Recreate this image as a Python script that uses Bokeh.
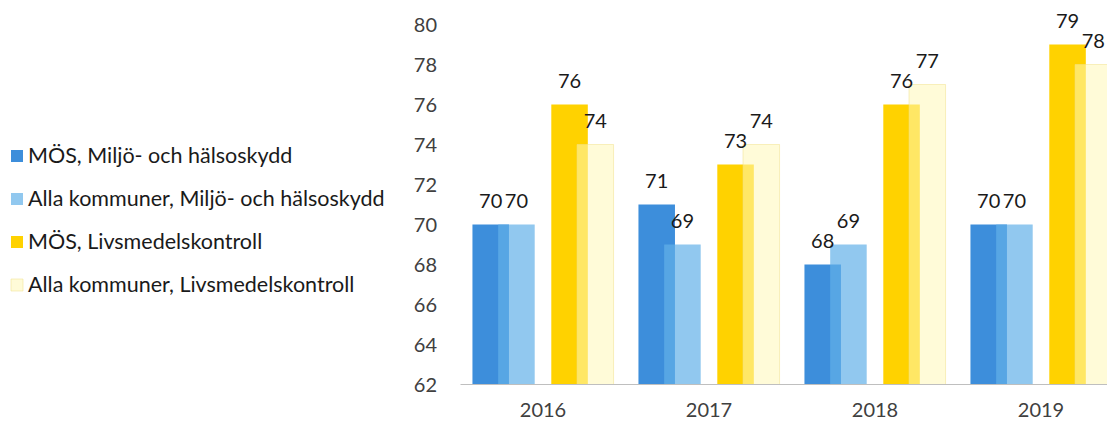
import numpy as np
from bokeh.plotting import figure
from bokeh.models import (ColumnDataSource, Range1d, FixedTicker, LabelSet,
                          Legend, LegendItem)
from bokeh.core.properties import value
from bokeh.transform import dodge
from bokeh.embed import file_html
from bokeh.resources import INLINE

years = ["2016", "2017", "2018", "2019"]
mos_miljo = [70, 71, 68, 70]
alla_miljo = [70, 69, 69, 70]
mos_livs = [76, 73, 76, 79]
alla_livs = [74, 74, 77, 78]

series_names = ["MÖS, Miljö- och hälsoskydd",
                "Alla kommuner, Miljö- och hälsoskydd",
                "MÖS, Livsmedelskontroll",
                "Alla kommuner, Livsmedelskontroll"]

xs = np.arange(len(years)) + 0.5
src = ColumnDataSource(dict(
    x=xs, years=years,
    a=mos_miljo, b=alla_miljo, c=mos_livs, d=alla_livs,
    la=[str(v) for v in mos_miljo], lb=[str(v) for v in alla_miljo],
    lc=[str(v) for v in mos_livs], ld=[str(v) for v in alla_livs],
))

FONT = "Lato"
CAT_PX = 166.0
X0_PX = 459.5
X_START = -X0_PX / CAT_PX
X_END = (1107 - X0_PX) / CAT_PX
Y_BASE = 62
Y_TOP = 80
Y_PX = 20.0
Y_START = Y_BASE - (423 - 384) / Y_PX
Y_END = Y_TOP + 24 / Y_PX

p = figure(width=1107, height=423, output_backend="svg", toolbar_location=None,
           x_range=Range1d(X_START, X_END), y_range=Range1d(Y_START, Y_END),
           min_border_left=0, min_border_right=0, min_border_top=0,
           min_border_bottom=0)
p.outline_line_color = None
p.xgrid.grid_line_color = None
p.ygrid.grid_line_color = None
p.background_fill_color = "white"
p.border_fill_color = "white"

W = 0.22
offs = [-0.315, -0.16, 0.16, 0.315]
styles = [
    dict(fill_color="#3d8edb", fill_alpha=1.0, line_color=None),
    dict(fill_color="#63b1e8", fill_alpha=0.7, line_color=None),
    dict(fill_color="#ffd200", fill_alpha=1.0, line_color=None),
    dict(fill_color="#fff7b8", fill_alpha=0.55, line_color="#f2e28a", line_alpha=0.5, line_width=1),
]
cols = ["a", "b", "c", "d"]
lcols = ["la", "lb", "lc", "ld"]
renderers = []
for col, off, st in zip(cols, offs, styles):
    r = p.vbar(x=dodge("x", off), top=col, bottom=Y_BASE, width=W, source=src, **st)
    renderers.append(r)

for col, lcol, off in zip(cols, lcols, offs):
    labels = LabelSet(x=dodge("x", off), y=col, text=lcol, source=src,
                      text_align="center", text_baseline="alphabetic",
                      y_offset=17, text_font=value(FONT), text_font_size="20px",
                      text_color="#1a1a1a")
    p.add_layout(labels)

# axes
p.yaxis.fixed_location = 0
p.yaxis.ticker = FixedTicker(ticks=list(range(Y_BASE, Y_TOP + 1, 2)))
p.yaxis.axis_line_color = None
p.yaxis.major_tick_line_color = None
p.yaxis.minor_tick_line_color = None
p.yaxis.major_tick_out = 0
p.yaxis.major_tick_in = 0
p.yaxis.major_label_standoff = 23
p.yaxis.major_label_text_font = FONT
p.yaxis.major_label_text_font_size = "20px"
p.yaxis.major_label_text_color = "#404040"

p.xaxis.fixed_location = Y_BASE
p.xaxis.ticker = FixedTicker(ticks=list(xs))
p.xaxis.bounds = (0, X_END)
p.xaxis.major_label_overrides = {float(x): y for x, y in zip(xs, years)}
p.xaxis.axis_line_color = "#bfbfbf"
p.xaxis.axis_line_width = 1
p.xaxis.major_tick_line_color = None
p.xaxis.minor_tick_line_color = None
p.xaxis.major_tick_out = 0
p.xaxis.major_tick_in = 0
p.xaxis.major_label_standoff = 18
p.xaxis.major_label_text_font = FONT
p.xaxis.major_label_text_font_size = "20px"
p.xaxis.major_label_text_color = "#404040"

legend = Legend(items=[LegendItem(label=n, renderers=[r]) for n, r in zip(series_names, renderers)],
                location=(9, 87 + 39), orientation="vertical",
                glyph_width=15, glyph_height=15, label_height=20, spacing=17,
                label_standoff=4, padding=0, margin=0,
                label_text_font=FONT, label_text_font_size="21.5px",
                label_text_color="#1a1a1a",
                border_line_color=None, background_fill_alpha=0)
p.add_layout(legend)

open("out.html", "w").write(file_html(p, INLINE))
